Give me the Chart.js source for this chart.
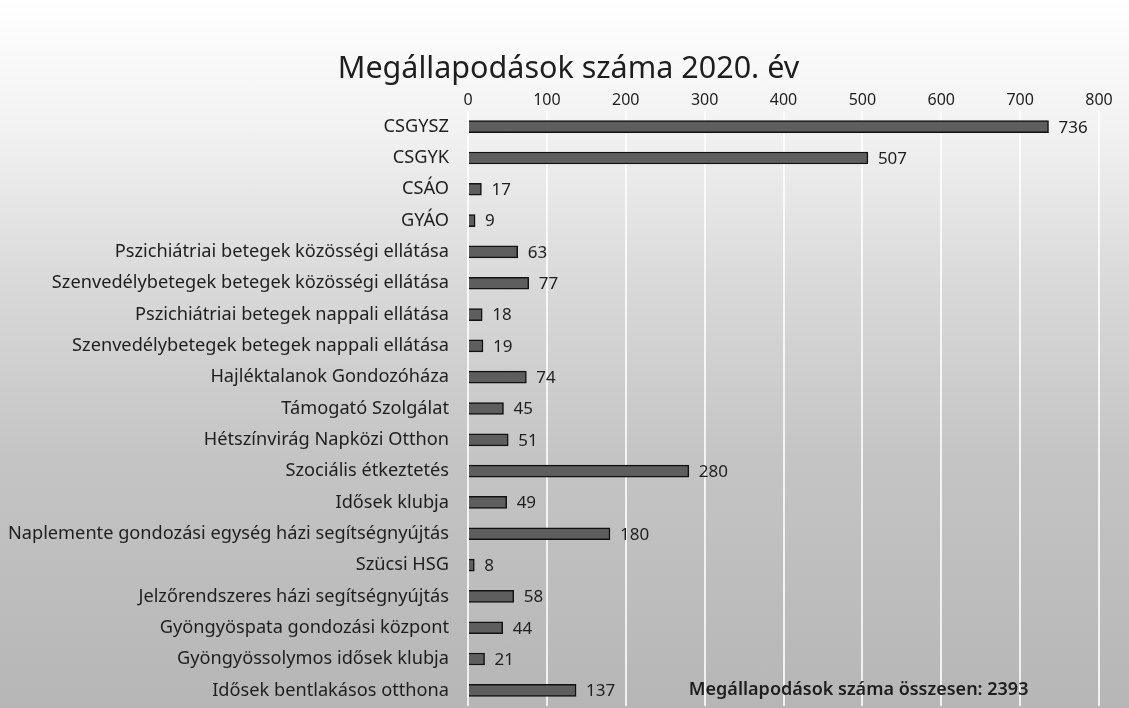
<!DOCTYPE html>
<html lang="hu">
<head>
<meta charset="utf-8">
<title>Megállapodások száma 2020. év</title>
<script src="https://cdn.jsdelivr.net/npm/chart.js@4/dist/chart.umd.min.js"></script>
<style>
    html, body {
        margin: 0;
        padding: 0;
        width: 1129px;
        height: 708px;
        overflow: hidden;
        background: linear-gradient(to bottom, #ffffff 0%, #f2f2f2 18%, #d9d9d9 40%, #c4c4c4 65%, #b6b6b6 100%);
    }
    canvas { display: block; }
</style>
</head>
<body>
<canvas id="chart" width="1129" height="708"></canvas>
<script>
// Data
const categories = [
    'CSGYSZ',
    'CSGYK',
    'CSÁO',
    'GYÁO',
    'Pszichiátriai betegek közösségi ellátása',
    'Szenvedélybetegek betegek közösségi ellátása',
    'Pszichiátriai betegek nappali ellátása',
    'Szenvedélybetegek betegek nappali ellátása',
    'Hajléktalanok Gondozóháza',
    'Támogató Szolgálat',
    'Hétszínvirág Napközi Otthon',
    'Szociális étkeztetés',
    'Idősek klubja',
    'Naplemente gondozási egység házi segítségnyújtás',
    'Szücsi HSG',
    'Jelzőrendszeres házi segítségnyújtás',
    'Gyöngyöspata gondozási központ',
    'Gyöngyössolymos idősek klubja',
    'Idősek bentlakásos otthona'
];
const agreements = [736, 507, 17, 9, 63, 77, 18, 19, 74, 45, 51, 280, 49, 180, 8, 58, 44, 21, 137];
const axisMin = 0;
const axisMax = 800;
const axisStep = 100;
const chartTitle = 'Megállapodások száma 2020. év';
const totalLabel = 'Megállapodások száma összesen: 2393';
const totalAnchorValue = 280;

const FONT = '"Noto Sans", "Open Sans", sans-serif';
const TEXT = '#1e1e1e';

// title (a bit right of centre, as in the scan), value labels, total note
const textLayer = {
    id: 'textLayer',
    afterDatasetsDraw(chart) {
        const ctx = chart.ctx;
        const meta = chart.getDatasetMeta(0);
        ctx.save();
        ctx.fillStyle = TEXT;
        ctx.textBaseline = 'middle';

        ctx.textAlign = 'center';
        ctx.font = '30.5px ' + FONT;
        ctx.fillText(chartTitle, chart.width / 2 + 4, 69);

        ctx.textAlign = 'left';
        ctx.font = '17px ' + FONT;
        meta.data.forEach((bar, i) => {
            ctx.fillText(String(agreements[i]), bar.x + 10, bar.y + 1);
        });

        const x = chart.scales.x.getPixelForValue(totalAnchorValue);
        const y = chart.scales.y.getPixelForValue(categories.length - 1);
        ctx.font = '600 18px ' + FONT;
        ctx.fillText(totalLabel, x, y);
        ctx.restore();
    }
};

const chart = new Chart(document.getElementById('chart'), {
    type: 'bar',
    data: {
        labels: categories,
        datasets: [{
            label: 'Megállapodások',
            data: agreements,
            backgroundColor: '#5e5e5e',
            borderColor: '#111111',
            borderWidth: 1.5,
            barThickness: 12
        }]
    },
    options: {
        indexAxis: 'y',
        responsive: false,
        animation: false,
        layout: {
            padding: { left: 0, right: 30, top: 89, bottom: 2 }
        },
        plugins: {
            legend: { display: false },
            tooltip: { enabled: false },
            title: { display: false }
        },
        scales: {
            x: {
                position: 'top',
                min: axisMin,
                max: axisMax,
                ticks: {
                    stepSize: axisStep,
                    color: TEXT,
                    font: { family: FONT, size: 16 },
                    padding: 1
                },
                grid: {
                    color: 'rgba(255,255,255,0.8)',
                    lineWidth: 2,
                    drawTicks: false
                },
                border: { display: false },
                afterFit(scale) { scale.height = 22; }
            },
            y: {
                ticks: {
                    color: TEXT,
                    font: { family: FONT, size: 18.2 },
                    padding: 11,
                    autoSkip: false
                },
                grid: { display: false },
                border: { display: false },
                afterFit(scale) {
                    scale.width = 468;
                    scale.paddingTop = 0;
                    scale.paddingBottom = 0;
                }
            }
        }
    },
    plugins: [textLayer]
});
</script>
</body>
</html>
